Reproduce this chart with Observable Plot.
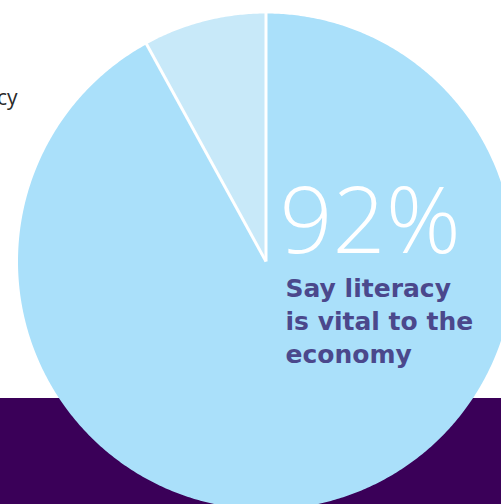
<!DOCTYPE html>
<html>
<head>
<meta charset="utf-8">
<script src="https://cdn.jsdelivr.net/npm/d3@7"></script>
<script src="https://cdn.jsdelivr.net/npm/@observablehq/plot@0.6"></script>
<style>
  html, body { margin: 0; padding: 0; }
  body {
    width: 501px; height: 504px; overflow: hidden;
    background: linear-gradient(to bottom, #ffffff 0px, #ffffff 398px, #3a0058 398px, #3a0058 504px);
  }
  #chart svg { display: block; background: transparent; }
</style>
</head>
<body>
<div id="chart"></div>
<script>
// Data
const categories = ["Say literacy is vital to the economy", "Other"];
const values = [92, 8];
const sliceColors = ["#aae0fa", "#c8e9f9"];
const bigLabel = ["92%"];
const subLabel = ["Say literacy", "is vital to the", "economy"];
const sideLabel = ["cy"];

// Build slice polygons via d3.pie (angles from 12 o'clock, clockwise)
const R = 248;
const arcs = d3.pie().sort(null).value(d => d.value)(categories.map((c, i) => ({cat: c, value: values[i]})));
const pts = [];
const radii = [];
arcs.forEach(a => {
  const cat = a.data.cat;
  pts.push({cat, x: 0, y: 0});
  const n = Math.max(2, Math.ceil((a.endAngle - a.startAngle) / (Math.PI / 360)));
  for (let k = 0; k <= n; k++) {
    const t = a.startAngle + (a.endAngle - a.startAngle) * k / n;
    pts.push({cat, x: R * Math.sin(t), y: R * Math.cos(t)});
  }
  pts.push({cat, x: 0, y: 0});
  radii.push({x1: 0, y1: 0, x2: (R + 1) * Math.sin(a.startAngle), y2: (R + 1) * Math.cos(a.startAngle)});
});

const chart = Plot.plot({
  width: 501,
  height: 504,
  margin: 0,
  style: {background: "transparent", overflow: "visible"},
  x: {domain: [-265.5, 235.5], axis: null},
  y: {domain: [-243, 261], axis: null},
  color: {domain: categories, range: sliceColors},
  marks: [
    Plot.line(pts, {x: "x", y: "y", z: "cat", fill: "cat", stroke: null, curve: "linear"}),
    Plot.link(radii, {x1: "x1", y1: "y1", x2: "x2", y2: "y2", stroke: "#ffffff", strokeWidth: 3}),
    Plot.text(bigLabel, {text: d => d, frameAnchor: "top-left", dx: 279, dy: 252, textAnchor: "start", lineAnchor: "bottom",
      fill: "#ffffff", fontSize: 93, fontWeight: 300, fontFamily: "'Open Sans', Lato, sans-serif"}),
    ...subLabel.map((s, i) => Plot.text([s], {text: d => d, frameAnchor: "top-left", dx: 285, dy: 296 + 33 * i, textAnchor: "start", lineAnchor: "bottom",
      fill: "#4b488c", fontSize: 25, fontWeight: 700, fontFamily: "'DejaVu Sans', 'Open Sans', sans-serif"})),
    Plot.text(sideLabel, {text: d => d, frameAnchor: "top-left", dx: 17, dy: 104, textAnchor: "end", lineAnchor: "bottom",
      fill: "#2a2a2a", fontSize: 21, fontWeight: 400, fontFamily: "'Open Sans', sans-serif"})
  ]
});
document.getElementById("chart").appendChild(chart);
</script>
</body>
</html>
